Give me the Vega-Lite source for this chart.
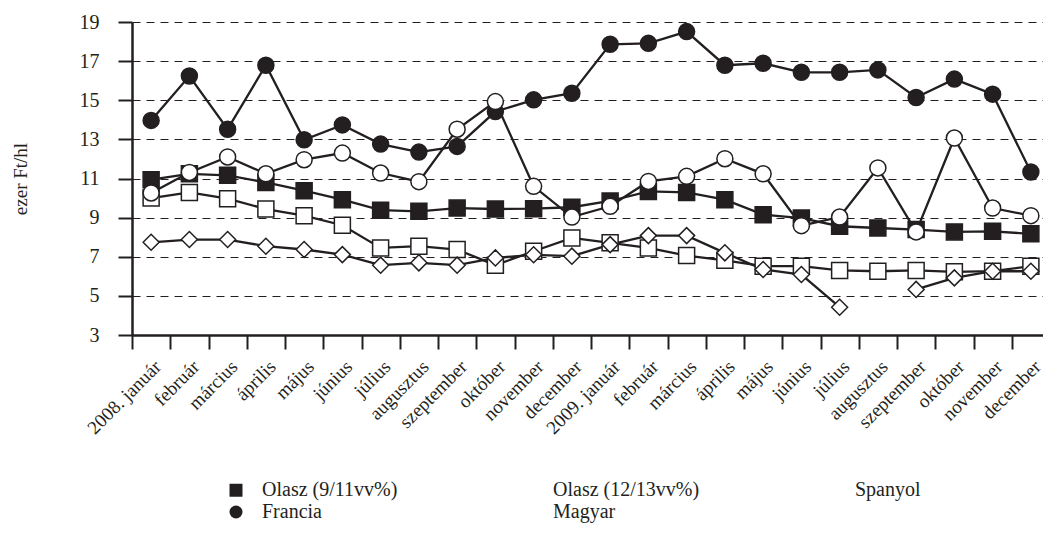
{
  "$schema": "https://vega.github.io/schema/vega-lite/v6.json",
  "width": 918,
  "height": 313,
  "autosize": {"type": "none"},
  "padding": {"left": 132, "top": 22, "right": 0, "bottom": 203},
  "background": "white",
  "config": {
    "font": "Liberation Serif",
    "view": {"stroke": null}
  },
  "datasets": {
    "adat": [
      {"honap": "2008. január", "sorozat": "Olasz (9/11vv%)", "ertek": 10.94},
      {"honap": "2008. február", "sorozat": "Olasz (9/11vv%)", "ertek": 11.24},
      {"honap": "2008. március", "sorozat": "Olasz (9/11vv%)", "ertek": 11.16},
      {"honap": "2008. április", "sorozat": "Olasz (9/11vv%)", "ertek": 10.8},
      {"honap": "2008. május", "sorozat": "Olasz (9/11vv%)", "ertek": 10.38},
      {"honap": "2008. június", "sorozat": "Olasz (9/11vv%)", "ertek": 9.92},
      {"honap": "2008. július", "sorozat": "Olasz (9/11vv%)", "ertek": 9.38},
      {"honap": "2008. augusztus", "sorozat": "Olasz (9/11vv%)", "ertek": 9.32},
      {"honap": "2008. szeptember", "sorozat": "Olasz (9/11vv%)", "ertek": 9.49},
      {"honap": "2008. október", "sorozat": "Olasz (9/11vv%)", "ertek": 9.44},
      {"honap": "2008. november", "sorozat": "Olasz (9/11vv%)", "ertek": 9.46},
      {"honap": "2008. december", "sorozat": "Olasz (9/11vv%)", "ertek": 9.53},
      {"honap": "2009. január", "sorozat": "Olasz (9/11vv%)", "ertek": 9.85},
      {"honap": "2009. február", "sorozat": "Olasz (9/11vv%)", "ertek": 10.34},
      {"honap": "2009. március", "sorozat": "Olasz (9/11vv%)", "ertek": 10.29},
      {"honap": "2009. április", "sorozat": "Olasz (9/11vv%)", "ertek": 9.92},
      {"honap": "2009. május", "sorozat": "Olasz (9/11vv%)", "ertek": 9.15},
      {"honap": "2009. június", "sorozat": "Olasz (9/11vv%)", "ertek": 8.98},
      {"honap": "2009. július", "sorozat": "Olasz (9/11vv%)", "ertek": 8.56},
      {"honap": "2009. augusztus", "sorozat": "Olasz (9/11vv%)", "ertek": 8.47},
      {"honap": "2009. szeptember", "sorozat": "Olasz (9/11vv%)", "ertek": 8.39},
      {"honap": "2009. október", "sorozat": "Olasz (9/11vv%)", "ertek": 8.27},
      {"honap": "2009. november", "sorozat": "Olasz (9/11vv%)", "ertek": 8.3},
      {"honap": "2009. december", "sorozat": "Olasz (9/11vv%)", "ertek": 8.17},
      {"honap": "2008. január", "sorozat": "Olasz (12/13vv%)", "ertek": 10.0},
      {"honap": "2008. február", "sorozat": "Olasz (12/13vv%)", "ertek": 10.29},
      {"honap": "2008. március", "sorozat": "Olasz (12/13vv%)", "ertek": 9.97},
      {"honap": "2008. április", "sorozat": "Olasz (12/13vv%)", "ertek": 9.44},
      {"honap": "2008. május", "sorozat": "Olasz (12/13vv%)", "ertek": 9.1},
      {"honap": "2008. június", "sorozat": "Olasz (12/13vv%)", "ertek": 8.61},
      {"honap": "2008. július", "sorozat": "Olasz (12/13vv%)", "ertek": 7.45},
      {"honap": "2008. augusztus", "sorozat": "Olasz (12/13vv%)", "ertek": 7.54},
      {"honap": "2008. szeptember", "sorozat": "Olasz (12/13vv%)", "ertek": 7.37},
      {"honap": "2008. október", "sorozat": "Olasz (12/13vv%)", "ertek": 6.57},
      {"honap": "2008. november", "sorozat": "Olasz (12/13vv%)", "ertek": 7.28},
      {"honap": "2008. december", "sorozat": "Olasz (12/13vv%)", "ertek": 7.96},
      {"honap": "2009. január", "sorozat": "Olasz (12/13vv%)", "ertek": 7.71},
      {"honap": "2009. február", "sorozat": "Olasz (12/13vv%)", "ertek": 7.45},
      {"honap": "2009. március", "sorozat": "Olasz (12/13vv%)", "ertek": 7.06},
      {"honap": "2009. április", "sorozat": "Olasz (12/13vv%)", "ertek": 6.82},
      {"honap": "2009. május", "sorozat": "Olasz (12/13vv%)", "ertek": 6.52},
      {"honap": "2009. június", "sorozat": "Olasz (12/13vv%)", "ertek": 6.52},
      {"honap": "2009. július", "sorozat": "Olasz (12/13vv%)", "ertek": 6.3},
      {"honap": "2009. augusztus", "sorozat": "Olasz (12/13vv%)", "ertek": 6.26},
      {"honap": "2009. szeptember", "sorozat": "Olasz (12/13vv%)", "ertek": 6.3},
      {"honap": "2009. október", "sorozat": "Olasz (12/13vv%)", "ertek": 6.23},
      {"honap": "2009. november", "sorozat": "Olasz (12/13vv%)", "ertek": 6.26},
      {"honap": "2009. december", "sorozat": "Olasz (12/13vv%)", "ertek": 6.52},
      {"honap": "2008. január", "sorozat": "Spanyol", "szakasz": 1, "ertek": 7.74},
      {"honap": "2008. február", "sorozat": "Spanyol", "szakasz": 1, "ertek": 7.88},
      {"honap": "2008. március", "sorozat": "Spanyol", "szakasz": 1, "ertek": 7.88},
      {"honap": "2008. április", "sorozat": "Spanyol", "szakasz": 1, "ertek": 7.54},
      {"honap": "2008. május", "sorozat": "Spanyol", "szakasz": 1, "ertek": 7.37},
      {"honap": "2008. június", "sorozat": "Spanyol", "szakasz": 1, "ertek": 7.11},
      {"honap": "2008. július", "sorozat": "Spanyol", "szakasz": 1, "ertek": 6.57},
      {"honap": "2008. augusztus", "sorozat": "Spanyol", "szakasz": 1, "ertek": 6.69},
      {"honap": "2008. szeptember", "sorozat": "Spanyol", "szakasz": 1, "ertek": 6.57},
      {"honap": "2008. október", "sorozat": "Spanyol", "szakasz": 1, "ertek": 6.94},
      {"honap": "2008. november", "sorozat": "Spanyol", "szakasz": 1, "ertek": 7.1},
      {"honap": "2008. december", "sorozat": "Spanyol", "szakasz": 1, "ertek": 7.03},
      {"honap": "2009. január", "sorozat": "Spanyol", "szakasz": 1, "ertek": 7.62},
      {"honap": "2009. február", "sorozat": "Spanyol", "szakasz": 1, "ertek": 8.08},
      {"honap": "2009. március", "sorozat": "Spanyol", "szakasz": 1, "ertek": 8.08},
      {"honap": "2009. április", "sorozat": "Spanyol", "szakasz": 1, "ertek": 7.2},
      {"honap": "2009. május", "sorozat": "Spanyol", "szakasz": 1, "ertek": 6.35},
      {"honap": "2009. június", "sorozat": "Spanyol", "szakasz": 1, "ertek": 6.09},
      {"honap": "2009. július", "sorozat": "Spanyol", "szakasz": 1, "ertek": 4.42},
      {"honap": "2009. szeptember", "sorozat": "Spanyol", "szakasz": 2, "ertek": 5.33},
      {"honap": "2009. október", "sorozat": "Spanyol", "szakasz": 2, "ertek": 5.92},
      {"honap": "2009. november", "sorozat": "Spanyol", "szakasz": 2, "ertek": 6.26},
      {"honap": "2009. december", "sorozat": "Spanyol", "szakasz": 2, "ertek": 6.26},
      {"honap": "2008. január", "sorozat": "Francia", "ertek": 13.97},
      {"honap": "2008. február", "sorozat": "Francia", "ertek": 16.24},
      {"honap": "2008. március", "sorozat": "Francia", "ertek": 13.52},
      {"honap": "2008. április", "sorozat": "Francia", "ertek": 16.79},
      {"honap": "2008. május", "sorozat": "Francia", "ertek": 12.98},
      {"honap": "2008. június", "sorozat": "Francia", "ertek": 13.74},
      {"honap": "2008. július", "sorozat": "Francia", "ertek": 12.76},
      {"honap": "2008. augusztus", "sorozat": "Francia", "ertek": 12.35},
      {"honap": "2008. szeptember", "sorozat": "Francia", "ertek": 12.64},
      {"honap": "2008. október", "sorozat": "Francia", "ertek": 14.42},
      {"honap": "2008. november", "sorozat": "Francia", "ertek": 15.02},
      {"honap": "2008. december", "sorozat": "Francia", "ertek": 15.36},
      {"honap": "2009. január", "sorozat": "Francia", "ertek": 17.86},
      {"honap": "2009. február", "sorozat": "Francia", "ertek": 17.91},
      {"honap": "2009. március", "sorozat": "Francia", "ertek": 18.51},
      {"honap": "2009. április", "sorozat": "Francia", "ertek": 16.79},
      {"honap": "2009. május", "sorozat": "Francia", "ertek": 16.89},
      {"honap": "2009. június", "sorozat": "Francia", "ertek": 16.43},
      {"honap": "2009. július", "sorozat": "Francia", "ertek": 16.43},
      {"honap": "2009. augusztus", "sorozat": "Francia", "ertek": 16.55},
      {"honap": "2009. szeptember", "sorozat": "Francia", "ertek": 15.14},
      {"honap": "2009. október", "sorozat": "Francia", "ertek": 16.08},
      {"honap": "2009. november", "sorozat": "Francia", "ertek": 15.31},
      {"honap": "2009. december", "sorozat": "Francia", "ertek": 11.33},
      {"honap": "2008. január", "sorozat": "Magyar", "ertek": 10.26},
      {"honap": "2008. február", "sorozat": "Magyar", "ertek": 11.31},
      {"honap": "2008. március", "sorozat": "Magyar", "ertek": 12.1},
      {"honap": "2008. április", "sorozat": "Magyar", "ertek": 11.24},
      {"honap": "2008. május", "sorozat": "Magyar", "ertek": 11.96},
      {"honap": "2008. június", "sorozat": "Magyar", "ertek": 12.3},
      {"honap": "2008. július", "sorozat": "Magyar", "ertek": 11.28},
      {"honap": "2008. augusztus", "sorozat": "Magyar", "ertek": 10.84},
      {"honap": "2008. szeptember", "sorozat": "Magyar", "ertek": 13.52},
      {"honap": "2008. október", "sorozat": "Magyar", "ertek": 14.93},
      {"honap": "2008. november", "sorozat": "Magyar", "ertek": 10.6},
      {"honap": "2008. december", "sorozat": "Magyar", "ertek": 9.03},
      {"honap": "2009. január", "sorozat": "Magyar", "ertek": 9.58},
      {"honap": "2009. február", "sorozat": "Magyar", "ertek": 10.85},
      {"honap": "2009. március", "sorozat": "Magyar", "ertek": 11.11},
      {"honap": "2009. április", "sorozat": "Magyar", "ertek": 12.01},
      {"honap": "2009. május", "sorozat": "Magyar", "ertek": 11.24},
      {"honap": "2009. június", "sorozat": "Magyar", "ertek": 8.59},
      {"honap": "2009. július", "sorozat": "Magyar", "ertek": 9.03},
      {"honap": "2009. augusztus", "sorozat": "Magyar", "ertek": 11.54},
      {"honap": "2009. szeptember", "sorozat": "Magyar", "ertek": 8.27},
      {"honap": "2009. október", "sorozat": "Magyar", "ertek": 13.07},
      {"honap": "2009. november", "sorozat": "Magyar", "ertek": 9.49},
      {"honap": "2009. december", "sorozat": "Magyar", "ertek": 9.1}
    ]
  },
  "data": {"name": "adat"},
  "encoding": {
    "x": {
      "field": "honap",
      "type": "ordinal",
      "sort": null,
      "scale": {"padding": 0.5},
      "axis": {
        "title": null,
        "labelAngle": -45,
        "labelFontSize": 19,
        "labelPadding": 8,
        "labelColor": "#231f20",
        "labelOverlap": false,
        "labelExpr": "indexof(datum.value, 'január') >= 0 ? datum.value : substring(datum.value, 6)",
        "tickOffset": -19.125,
        "labelOffset": 19.125,
        "tickSize": 14,
        "tickWidth": 2,
        "tickColor": "#231f20",
        "domainColor": "#231f20",
        "domainWidth": 2.5
      }
    },
    "y": {
      "field": "ertek",
      "type": "quantitative",
      "scale": {"domain": [3, 19], "nice": false, "zero": false},
      "axis": {
        "title": "ezer Ft/hl",
        "titleFontSize": 19,
        "titleFontWeight": "normal",
        "titleColor": "#231f20",
        "titlePadding": 49,
        "values": [3, 5, 7, 9, 11, 13, 15, 17, 19],
        "labelFontSize": 20,
        "labelColor": "#231f20",
        "labelPadding": 19,
        "tickSize": 14,
        "tickWidth": 2,
        "tickColor": "#231f20",
        "domainColor": "#231f20",
        "domainWidth": 2.5,
        "grid": true,
        "gridDash": [8, 6],
        "gridColor": "#231f20",
        "gridWidth": 1
      }
    }
  },
  "layer": [
    {
      "mark": {"type": "line", "color": "#231f20", "strokeWidth": 2.3},
      "encoding": {"detail": [{"field": "sorozat", "type": "nominal"}, {"field": "szakasz", "type": "nominal"}]}
    },
    {
      "mark": {"type": "point", "filled": true, "opacity": 1, "stroke": "#231f20", "strokeWidth": 1.5, "size": 256},
      "encoding": {
        "shape": {
          "field": "sorozat",
          "type": "nominal",
          "scale": {
            "domain": ["Olasz (9/11vv%)", "Olasz (12/13vv%)", "Spanyol", "Francia", "Magyar"],
            "range": ["square", "square", "diamond", "circle", "circle"]
          },
          "legend": {
            "title": null,
            "orient": "none",
            "legendX": 94,
            "legendY": 458,
            "direction": "horizontal",
            "columns": 3,
            "columnPadding": 118,
            "rowPadding": 0,
            "labelFontSize": 20,
            "labelColor": "#231f20",
            "labelOffset": 16,
            "symbolSize": 169,
            "symbolStrokeWidth": 2,
            "symbolStrokeColor": "#231f20",
            "symbolOpacity": 1
          }
        },
        "fill": {
          "field": "sorozat",
          "type": "nominal",
          "scale": {
            "domain": ["Olasz (9/11vv%)", "Olasz (12/13vv%)", "Spanyol", "Francia", "Magyar"],
            "range": ["#231f20", "#ffffff", "#ffffff", "#231f20", "#ffffff"]
          }
        }
      }
    }
  ]
}
